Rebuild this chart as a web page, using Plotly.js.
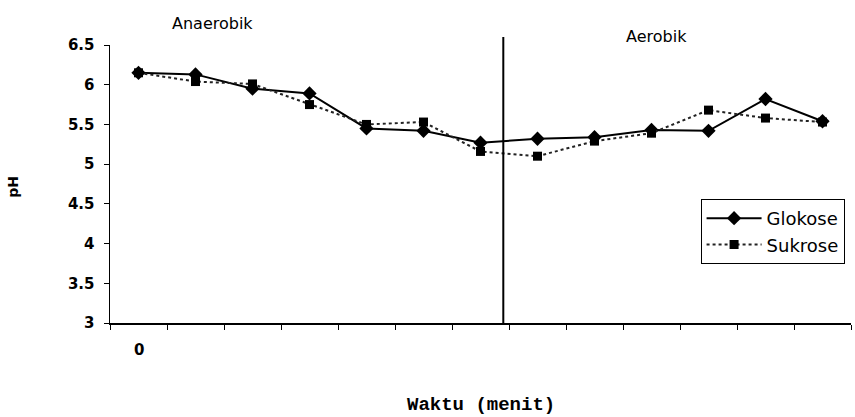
<!DOCTYPE html>
<html><head><meta charset="utf-8">
<script src="https://cdn.plot.ly/plotly-3.0.1.min.js"></script>
<style>html,body{margin:0;padding:0;background:#fff;}#chart{width:855px;height:417px;}</style>
</head><body><div id="chart"></div>
<script>
var waktuIndex = [0,1,2,3,4,5,6,7,8,9,10,11,12];
var xTickLabels = ['0'];
var glokose = [6.15,6.13,5.95,5.89,5.45,5.42,5.27,5.32,5.34,5.43,5.42,5.82,5.54];
var sukrose = [6.15,6.04,6.01,5.75,5.50,5.53,5.16,5.10,5.29,5.39,5.68,5.58,5.53];
var seriesNames = ['Glokose','Sukrose'];
var phaseLabels = ['Anaerobik','Aerobik'];
var phaseBoundary = 6.4;

var traces = [
  {x: waktuIndex, y: glokose, name: seriesNames[0], type:'scatter', mode:'lines+markers',
   line:{color:'#000', width:2}, marker:{symbol:'diamond', size:11, color:'#000'}},
  {x: waktuIndex, y: sukrose, name: seriesNames[1], type:'scatter', mode:'lines+markers',
   line:{color:'#222', width:2, dash:'dot'}, marker:{symbol:'square', size:9, color:'#000'}}
];
var layout = {
  width:855, height:417,
  margin:{l:110, r:4, t:45, b:94},
  paper_bgcolor:'#fff', plot_bgcolor:'#fff',
  font:{family:'Arial, Liberation Sans, sans-serif', color:'#000'},
  showlegend:true,
  legend:{x:0.797, y:0.446, xanchor:'left', yanchor:'top', bgcolor:'#fff',
    bordercolor:'#000', borderwidth:1, font:{size:18, color:'#000', family:'DejaVu Sans, Arial, sans-serif'},
    itemwidth:55, tracegroupgap:0},
  xaxis:{range:[-0.5,12.5], tickmode:'linear', tick0:-0.5, dtick:1, showticklabels:false,
    ticks:'outside', ticklen:5, tickcolor:'#000', showgrid:false, zeroline:false,
    showline:true, linecolor:'#000', linewidth:1.5, fixedrange:true},
  yaxis:{range:[3,6.5], tickmode:'linear', tick0:3, dtick:0.5, ticks:'outside', ticklen:5,
    tickcolor:'#000', showgrid:false, zeroline:false, showline:true, linecolor:'#000', linewidth:1.5,
    tickfont:{size:15, family:'DejaVu Sans, Arial, sans-serif', weight:'bold'}, ticklabelstandoff:6},
  shapes:[{type:'line', xref:'x', yref:'paper', x0:phaseBoundary, x1:phaseBoundary, y0:0, y1:1.029,
    line:{color:'#000', width:2}}],
  annotations:[
    {text:phaseLabels[0], xref:'x', yref:'paper', x:1.3, y:1.076, xanchor:'center', yanchor:'middle', showarrow:false,
     font:{size:16, family:'DejaVu Sans, Arial, sans-serif'}},
    {text:phaseLabels[1], xref:'x', yref:'paper', x:9.08, y:1.032, xanchor:'center', yanchor:'middle', showarrow:false,
     font:{size:16, family:'DejaVu Sans, Arial, sans-serif'}},
    {text:xTickLabels[0], xref:'x', yref:'paper', x:0, y:-0.097, xanchor:'center', yanchor:'middle', showarrow:false,
     font:{size:15, weight:'bold', family:'DejaVu Sans, Arial, sans-serif'}},
    {text:'pH', xref:'paper', yref:'paper', x:-0.131, y:0.49, xanchor:'center', yanchor:'middle', textangle:-90, showarrow:false,
     font:{size:14, weight:'bold', family:'DejaVu Sans, Arial, sans-serif'}},
    {text:'Waktu (menit)', xref:'paper', yref:'paper', x:0.5, y:-0.295, xanchor:'center', yanchor:'middle', showarrow:false,
     font:{size:19, family:'Liberation Mono, Courier New, monospace', weight:'bold'}}
  ]
};
Plotly.newPlot('chart', traces, layout, {displayModeBar:false, staticPlot:true});
</script></body></html>
